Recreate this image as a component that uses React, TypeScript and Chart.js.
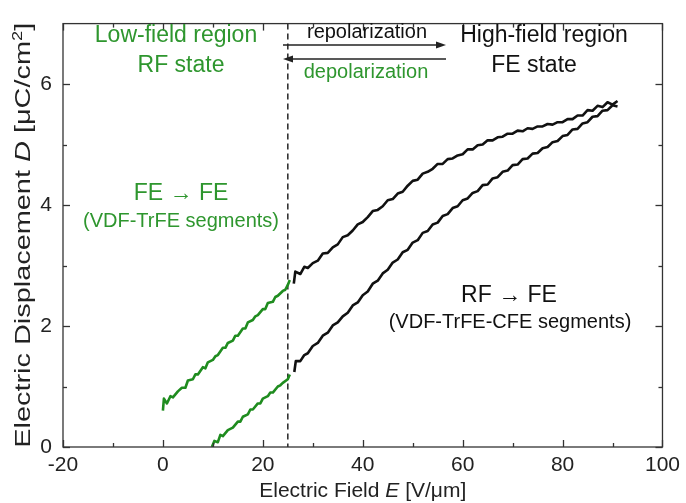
import React, { useEffect, useRef } from "react";
import { Chart, registerables } from "chart.js";

Chart.register(...registerables);

// ---- data (E in V/µm, D in µC/cm²) ----
const greenUpperE = [0, 0.2, 0.8, 1.5, 2, 3, 3.8, 4.5, 5, 6, 6.5, 7, 8, 8.5, 9, 10, 10.5, 11, 12, 12.5, 13, 14, 14.5, 15, 16, 16.5, 17, 18, 18.5, 19, 20, 20.5, 21, 22, 22.5, 23, 24, 24.5, 25, 25.4];
const greenUpperD = [0.6, 0.8, 0.72, 0.84, 0.82, 0.92, 0.98, 0.98, 1.1, 1.12, 1.2, 1.2, 1.32, 1.3, 1.4, 1.44, 1.5, 1.52, 1.64, 1.64, 1.72, 1.76, 1.84, 1.84, 1.96, 1.96, 2.06, 2.1, 2.16, 2.18, 2.28, 2.28, 2.38, 2.4, 2.48, 2.5, 2.58, 2.6, 2.68, 2.76];

const greenLowerE = [9.8, 10.3, 11, 11.5, 12, 13, 13.5, 14, 15, 15.5, 16, 17, 17.5, 18, 19, 19.5, 20, 21, 21.5, 22, 23, 23.5, 24, 25, 25.4];
const greenLowerD = [0.0, 0.1, 0.08, 0.2, 0.18, 0.28, 0.3, 0.32, 0.42, 0.42, 0.5, 0.54, 0.62, 0.62, 0.72, 0.72, 0.8, 0.84, 0.9, 0.9, 1.0, 1.02, 1.06, 1.12, 1.2];

const blackUpperE = [26.2, 26.5, 27.5, 28.3, 29, 30, 31, 32, 33, 34, 35, 36, 37, 38, 39, 40, 41, 42, 43, 44, 45, 46, 47, 48, 49, 50, 51, 52, 53, 54, 55, 56, 57, 58, 59, 60, 61, 62, 63, 64, 65, 66, 67, 68, 69, 70, 71, 72, 73, 74, 75, 76, 77, 78, 79, 80, 81, 82, 83, 84, 85, 86, 87, 88, 89, 90, 91];
const blackUpperD = [2.7, 2.9, 2.86, 2.98, 2.96, 3.04, 3.08, 3.2, 3.21, 3.3, 3.35, 3.47, 3.5, 3.58, 3.68, 3.72, 3.8, 3.9, 3.92, 3.98, 4.08, 4.1, 4.19, 4.22, 4.32, 4.4, 4.42, 4.52, 4.55, 4.6, 4.68, 4.68, 4.76, 4.77, 4.82, 4.84, 4.92, 4.92, 4.99, 5.0, 5.07, 5.07, 5.12, 5.13, 5.18, 5.18, 5.23, 5.22, 5.27, 5.26, 5.3, 5.3, 5.34, 5.33, 5.37, 5.37, 5.42, 5.42, 5.48, 5.48, 5.57, 5.56, 5.64, 5.62, 5.7, 5.66, 5.72];

const blackLowerE = [26.3, 26.6, 27.5, 28.3, 29, 30, 31, 32, 33, 34, 35, 36, 37, 38, 39, 40, 41, 42, 43, 44, 45, 46, 47, 48, 49, 50, 51, 52, 53, 54, 55, 56, 57, 58, 59, 60, 61, 62, 63, 64, 65, 66, 67, 68, 69, 70, 71, 72, 73, 74, 75, 76, 77, 78, 79, 80, 81, 82, 83, 84, 85, 86, 87, 88, 89, 90, 91];
const blackLowerD = [1.24, 1.42, 1.42, 1.52, 1.55, 1.67, 1.72, 1.84, 1.89, 2.01, 2.06, 2.16, 2.22, 2.34, 2.39, 2.51, 2.57, 2.7, 2.75, 2.87, 2.93, 3.05, 3.1, 3.22, 3.26, 3.38, 3.42, 3.54, 3.57, 3.68, 3.71, 3.82, 3.85, 3.95, 3.98, 4.08, 4.11, 4.2, 4.23, 4.33, 4.34, 4.44, 4.46, 4.55, 4.57, 4.66, 4.67, 4.76, 4.77, 4.85, 4.86, 4.94, 4.96, 5.04, 5.06, 5.14, 5.16, 5.25, 5.26, 5.35, 5.37, 5.46, 5.47, 5.56, 5.57, 5.65, 5.63];

const xMajorTicks = [-20, 0, 20, 40, 60, 80, 100];
const xMinorTicks = [-10, 10, 30, 50, 70, 90];
const yMajorTicks = [0, 2, 4, 6];
const yMinorTicks = [1, 3, 5];
const dividerE = 25;

const GREEN = "#2e962e";
const LINE_GREEN = "#1f8c1f";
const FONT = "'Liberation Sans', Arial, Helvetica, sans-serif";

const pts = (e: number[], d: number[]) => e.map((x, i) => ({ x, y: d[i] }));

function drawLine(ctx: CanvasRenderingContext2D, x1: number, y1: number, x2: number, y2: number) {
  ctx.beginPath();
  ctx.moveTo(x1, y1);
  ctx.lineTo(x2, y2);
  ctx.stroke();
}

function arrow(ctx: CanvasRenderingContext2D, x1: number, x2: number, y: number) {
  ctx.strokeStyle = "#222";
  ctx.fillStyle = "#222";
  ctx.lineWidth = 1.6;
  const dir = Math.sign(x2 - x1);
  drawLine(ctx, x1, y, x2 - dir * 6, y);
  ctx.beginPath();
  ctx.moveTo(x2, y);
  ctx.lineTo(x2 - dir * 10, y - 3.5);
  ctx.lineTo(x2 - dir * 10, y + 3.5);
  ctx.closePath();
  ctx.fill();
}

function text(ctx: CanvasRenderingContext2D, s: string, x: number, y: number, size: number, color: string) {
  ctx.font = `${size}px ${FONT}`;
  ctx.fillStyle = color;
  ctx.textAlign = "center";
  ctx.textBaseline = "middle";
  ctx.fillText(s, x, y);
}

// draws a sequence of [string, italic, superscript] parts centred at 0,0
function richText(ctx: CanvasRenderingContext2D, parts: [string, boolean, boolean][], size: number, targetLen?: number) {
  const fontFor = (it: boolean, sup: boolean) => `${it ? "italic " : ""}${sup ? Math.round(size * 0.65) : size}px ${FONT}`;
  let total = 0;
  const widths = parts.map(([s, it, sup]) => {
    ctx.font = fontFor(it, sup);
    const w = ctx.measureText(s).width;
    total += w;
    return w;
  });
  const sx = targetLen ? targetLen / total : 1;
  ctx.save();
  ctx.scale(sx, 1);
  let x = -total / 2;
  ctx.textAlign = "left";
  ctx.textBaseline = "alphabetic";
  parts.forEach(([s, it, sup], i) => {
    ctx.font = fontFor(it, sup);
    ctx.fillText(s, x, sup ? -size * 0.38 : 0);
    x += widths[i];
  });
  ctx.restore();
}

const overlay = {
  id: "overlay",
  beforeDatasetsDraw(chart: any) {
    const { ctx, chartArea: a, scales } = chart;
    const px = scales.x.getPixelForValue(dividerE);
    ctx.save();
    ctx.strokeStyle = "#333";
    ctx.lineWidth = 1.6;
    ctx.setLineDash([6, 4]);
    drawLine(ctx, px, a.top, px, a.bottom);
    ctx.restore();
  },
  afterDraw(chart: any) {
    const { ctx, chartArea: a, scales } = chart;
    const xs = scales.x;
    const ys = scales.y;
    ctx.save();
    ctx.strokeStyle = "#333";
    ctx.lineWidth = 1.3;
    ctx.strokeRect(a.left, a.top, a.right - a.left, a.bottom - a.top);
    const tickX = (v: number, len: number) => {
      const p = Math.round(xs.getPixelForValue(v)) + 0.5;
      drawLine(ctx, p, a.bottom, p, a.bottom - len);
      drawLine(ctx, p, a.top, p, a.top + len);
    };
    const tickY = (v: number, len: number) => {
      const p = Math.round(ys.getPixelForValue(v)) + 0.5;
      drawLine(ctx, a.left, p, a.left + len, p);
      drawLine(ctx, a.right, p, a.right - len, p);
    };
    xMajorTicks.forEach((v) => tickX(v, 7));
    xMinorTicks.forEach((v) => tickX(v, 4));
    yMajorTicks.forEach((v) => tickY(v, 7));
    yMinorTicks.forEach((v) => tickY(v, 4));

    // annotations
    text(ctx, "Low-field region", 176, 36, 23, GREEN);
    text(ctx, "RF state", 181, 66, 23, GREEN);
    text(ctx, "repolarization", 367, 32, 20, "#111");
    text(ctx, "depolarization", 366, 72, 20, GREEN);
    arrow(ctx, 283, 446, 45);
    arrow(ctx, 446, 283, 59);
    text(ctx, "High-field region", 544, 36, 23, "#111");
    text(ctx, "FE state", 534, 66, 23, "#111");
    text(ctx, "FE \u2192 FE", 181, 194, 23, GREEN);
    text(ctx, "(VDF-TrFE segments)", 181, 221, 20, GREEN);
    text(ctx, "RF \u2192 FE", 509, 296, 23, "#111");
    text(ctx, "(VDF-TrFE-CFE segments)", 510, 322, 20, "#111");

    // axis titles
    ctx.fillStyle = "#222";
    ctx.save();
    ctx.translate((a.left + a.right) / 2, 497);
    richText(ctx, [["Electric Field ", false, false], ["E", true, false], [" [V/\u03bcm]", false, false]], 21);
    ctx.restore();

    ctx.save();
    ctx.translate(30, (a.top + a.bottom) / 2);
    ctx.rotate(-Math.PI / 2);
    richText(
      ctx,
      [["Electric Displacement ", false, false], ["D", true, false], [" [\u03bcC/cm", false, false], ["2", false, true], ["]", false, false]],
      22,
      425
    );
    ctx.restore();
    ctx.restore();
  },
};

export default function App() {
  const ref = useRef<HTMLCanvasElement>(null);
  useEffect(() => {
    const canvas = ref.current!;
    const lineDs = (label: string, data: any[], color: string) => ({
      label,
      data,
      showLine: true,
      borderColor: color,
      borderWidth: 2.6,
      pointRadius: 0,
      fill: false,
      tension: 0,
      borderJoinStyle: "round" as const,
    });
    const chart = new Chart(canvas, {
      type: "scatter",
      data: {
        datasets: [
          lineDs("green upper", pts(greenUpperE, greenUpperD), LINE_GREEN),
          lineDs("green lower", pts(greenLowerE, greenLowerD), LINE_GREEN),
          lineDs("black upper", pts(blackUpperE, blackUpperD), "#111"),
          lineDs("black lower", pts(blackLowerE, blackLowerD), "#111"),
        ],
      },
      options: {
        animation: false,
        responsive: false,
        devicePixelRatio: 1,
        layout: { padding: { top: 5, right: 19, left: 0, bottom: 0 } },
        plugins: { legend: { display: false }, tooltip: { enabled: false } },
        scales: {
          x: {
            type: "linear",
            min: -20,
            max: 100,
            grid: { display: false, drawTicks: false },
            border: { display: false },
            ticks: {
              stepSize: 20,
              includeBounds: false,
              padding: 6,
              color: "#222",
              font: { family: FONT, size: 21 },
              maxRotation: 0,
            },
            afterFit: (s: any) => {
              s.height = 56;
            },
          },
          y: {
            type: "linear",
            min: 0,
            max: 7,
            grid: { display: false, drawTicks: false },
            border: { display: false },
            ticks: {
              stepSize: 2,
              includeBounds: false,
              padding: 11,
              color: "#222",
              font: { family: FONT, size: 21 },
            },
            afterFit: (s: any) => {
              s.width = 63;
            },
          },
        },
      },
      plugins: [overlay],
    });
    return () => chart.destroy();
  }, []);
  return (
    <div style={{ position: "absolute", left: 0, top: 0, width: 686, height: 503, background: "#fff" }}>
      <canvas ref={ref} width={686} height={503} style={{ width: 686, height: 503, display: "block" }} />
    </div>
  );
}
